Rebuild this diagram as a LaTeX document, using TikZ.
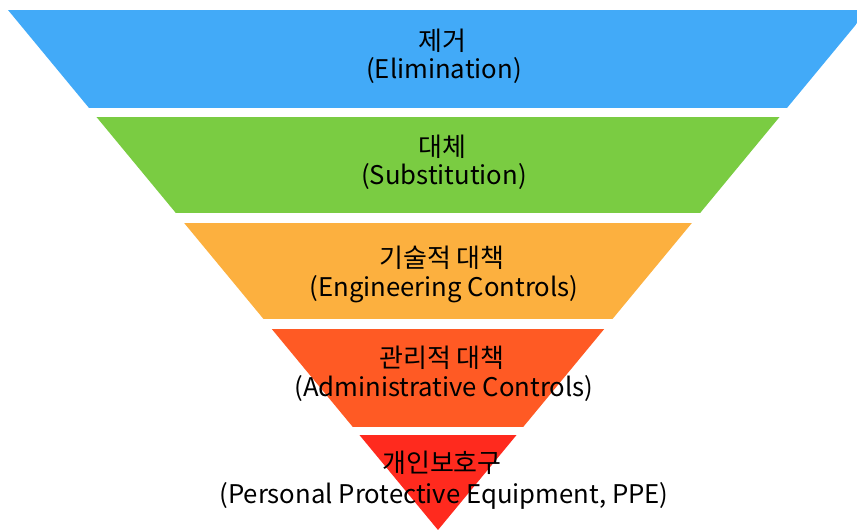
\documentclass[tikz,border=0pt]{standalone}
\usepackage{fontspec}
\setmainfont{Noto Sans CJK KR}
\definecolor{cblue}{HTML}{42AAF8}
\definecolor{cgreen}{HTML}{7ACC42}
\definecolor{corange}{HTML}{FCB03F}
\definecolor{cdeep}{HTML}{FF5A24}
\definecolor{cred}{HTML}{FF2A1E}
\begin{document}
\begin{tikzpicture}[x=1pt,y=-1pt,
  ko/.style={anchor=base,inner sep=0pt,font=\fontsize{26}{26}\selectfont,text=black},
  en/.style={anchor=base,inner sep=0pt,font=\fontsize{25.7}{25.7}\selectfont,text=black}]
\useasboundingbox (0,0) rectangle (857,530);
\begin{scope}
  \clip (8,10) -- (868,10) -- (438,530) -- cycle;
  \fill[cblue]   (0,10)  rectangle (880,108);
  \fill[cgreen]  (0,117) rectangle (880,213);
  \fill[corange] (0,223) rectangle (880,319);
  \fill[cdeep]   (0,329) rectangle (880,427);
  \fill[cred]    (0,435) rectangle (880,531);
\end{scope}
\node[ko] (k1) at (442,50)  {제거};
\node[en] (e1) at (444,78)  {(Elimination)};
\node[ko] (k2) at (442,156) {대체};
\node[en] (e2) at (444,184) {(Substitution)};
\node[ko] (k3) at (442,267) {기술적 대책};
\node[en] (e3) at (444,296) {(Engineering Controls)};
\node[ko] (k4) at (442,367) {관리적 대책};
\node[en] (e4) at (444,396) {(Administrative Controls)};
\node[ko] (k5) at (442,472) {개인보호구};
\node[en] (e5) at (444,503) {(Personal Protective Equipment, PPE)};
\end{tikzpicture}
\end{document}
